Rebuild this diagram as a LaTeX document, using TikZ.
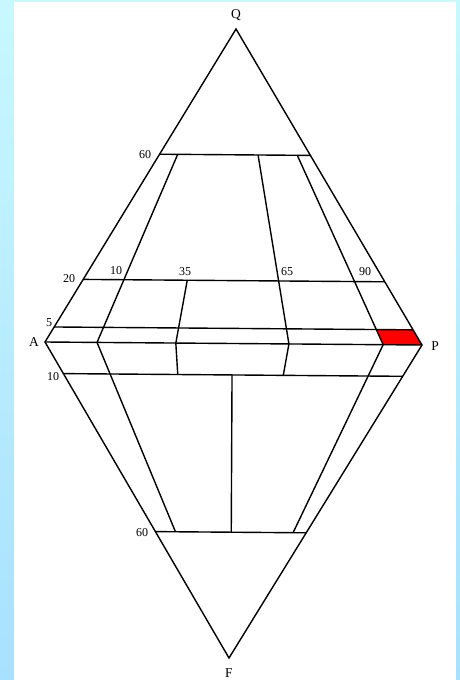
\documentclass[tikz,border=0pt]{standalone}
\usepackage{fontspec}
\setmainfont{Liberation Serif}
\usepackage{tikz}
\usetikzlibrary{calc}
\definecolor{paleblue}{RGB}{200, 248, 255}
\definecolor{skyblue}{RGB}{168, 224, 255}
\definecolor{fillred}{RGB}{255, 0, 0}

\begin{document}
\begin{tikzpicture}[x=1pt, y=-1pt, line width=1.4pt,
    tick/.style={font=\fontsize{12}{13}\selectfont, inner sep=0pt},
    corner/.style={font=\fontsize{13.5}{14}\selectfont, inner sep=0pt}]
        \useasboundingbox (0,0) rectangle (460,680);
        \shade[top color=paleblue, bottom color=skyblue] (0,0) rectangle (460,680);
        \fill[white] (14,2) rectangle (456,680);
        % corners of the double triangle
        \coordinate (Q) at (236,29); \coordinate (A) at (45,342);
        \coordinate (P) at (422,345); \coordinate (F) at (229,658);
        % horizontal levels
        \coordinate (q60l) at ($(Q)!0.4!(A)$);  \coordinate (q60r) at ($(Q)!0.4!(P)$);
        \coordinate (q20l) at ($(Q)!0.8!(A)$);  \coordinate (q20r) at ($(Q)!0.8!(P)$);
        \coordinate (q5l) at ($(Q)!0.952!(A)$); \coordinate (q5r) at ($(Q)!0.952!(P)$);
        \coordinate (f10l) at ($(A)!0.1!(F)$);  \coordinate (f10r) at ($(P)!0.1!(F)$);
        \coordinate (f60l) at ($(A)!0.6!(F)$);  \coordinate (f60r) at ($(P)!0.6!(F)$);
        % points of the dividing lines
        \coordinate (a10) at ($(q60l)!0.12!(q60r)$);  \coordinate (a65) at ($(q60l)!0.653!(q60r)$);
        \coordinate (a90) at ($(q60l)!0.913!(q60r)$); \coordinate (b35) at ($(q20l)!0.345!(q20r)$);
        \coordinate (c10) at ($(A)!0.138!(P)$);  \coordinate (c35) at ($(A)!0.347!(P)$);
        \coordinate (c65) at ($(A)!0.647!(P)$);  \coordinate (c90) at ($(A)!0.897!(P)$);
        \coordinate (d35) at ($(f10l)!0.337!(f10r)$); \coordinate (d65) at ($(f10l)!0.648!(f10r)$);
        \coordinate (dmid) at ($(f10l)!0.497!(f10r)$);
        \coordinate (e10) at ($(f60l)!0.133!(f60r)$); \coordinate (emid) at ($(f60l)!0.503!(f60r)$);
        \coordinate (e90) at ($(f60l)!0.913!(f60r)$);
        \coordinate (r5) at (intersection of a90--c90 and q5l--q5r);

        \fill[fillred] (r5) -- (q5r) -- (P) -- (c90) -- cycle;

        \draw (Q) -- (A) -- (F) -- (P) -- cycle;
        \draw (q60l) -- (q60r); \draw (q20l) -- (q20r); \draw (q5l) -- (q5r);
        \draw (A) -- (P); \draw (f10l) -- (f10r); \draw (f60l) -- (f60r);
        \draw (a10) -- (c10) -- (e10);
        \draw (b35) -- (c35) -- (d35);
        \draw (a65) -- (c65) -- (d65);
        \draw (a90) -- (c90) -- (e90);
        \draw (dmid) -- (emid);

        \node[corner] (lq) at (236,15) {Q}; \node[corner] (la) at (34,342) {A};
        \node[corner] (lp) at (435,346) {P}; \node[corner] (lf) at (229,673) {F};
        \node[tick] (t60a) at (145,155) {60}; \node[tick] (t20) at (69,279) {20};
        \node[tick] (t10a) at (116,271) {10}; \node[tick] (t35) at (185,272) {35};
        \node[tick] (t65) at (287,272) {65};  \node[tick] (t90) at (365,272) {90};
        \node[tick] (t5) at (49,323) {5};     \node[tick] (t10b) at (53,377) {10};
        \node[tick] (t60b) at (142,533) {60};
    \end{tikzpicture}
\end{document}
